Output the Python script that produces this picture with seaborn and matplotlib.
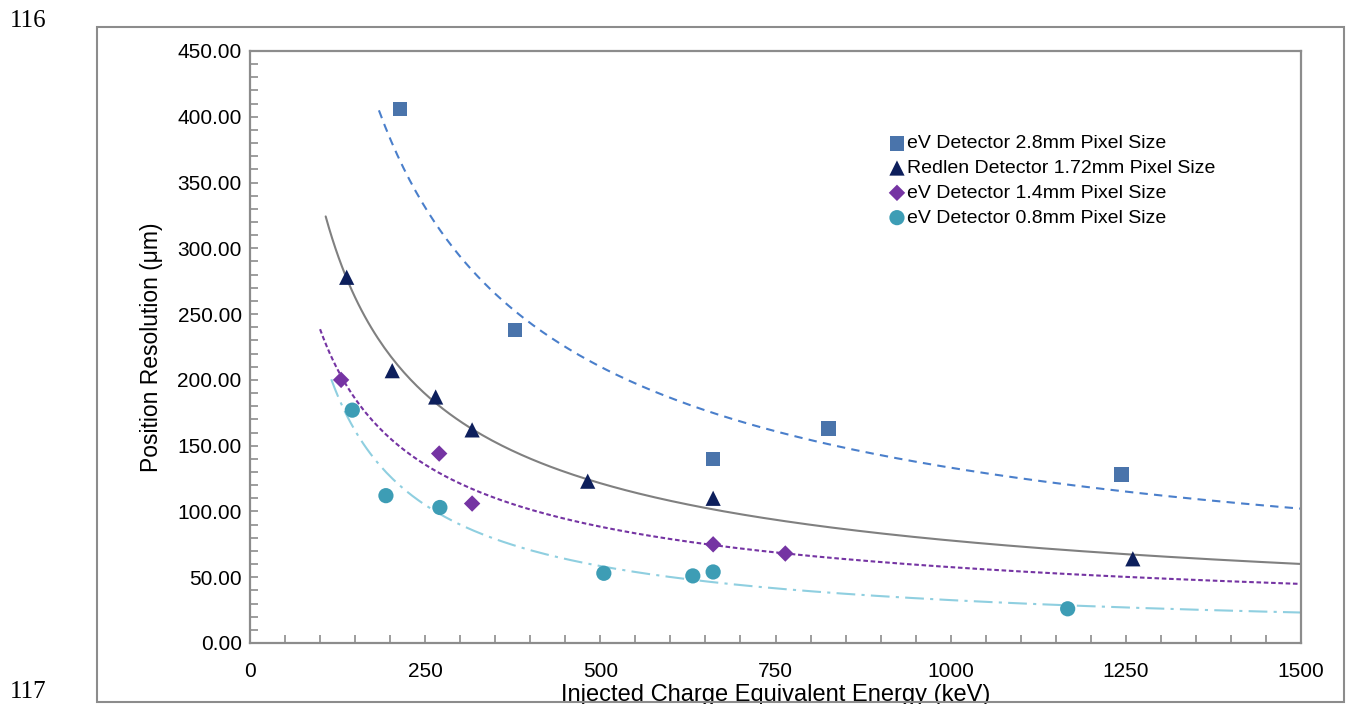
import numpy as np
import pandas as pd
import seaborn as sns
import matplotlib.pyplot as plt
from matplotlib.patches import Rectangle

# values
sq_x = [214, 378, 661, 826, 1244]
sq_y = [406, 238, 140, 163, 128]
tri_x = [138, 203, 265, 317, 482, 661, 1260]
tri_y = [278, 207, 187, 162, 123, 110, 64]
dia_x = [130, 270, 317, 661, 764]
dia_y = [200, 144, 106, 75, 68]
cir_x = [146, 194, 271, 505, 632, 661, 1167]
cir_y = [177, 112, 103, 53, 51, 54, 26]

labels = ["eV Detector 2.8mm Pixel Size", "Redlen Detector 1.72mm Pixel Size",
          "eV Detector 1.4mm Pixel Size", "eV Detector 0.8mm Pixel Size"]
marker_colors = ["#4a74ab", "#0d1f5c", "#7534a3", "#3d9db5"]
markers = ["s", "^", "D", "o"]
marker_sizes = [110, 120, 70, 120]
line_colors = ["#4a7fcb", "#808080", "#7534a3", "#8fcfe0"]
line_styles = [(0, (4, 3)), "-", (0, (2.2, 1.3)), (0, (9, 3, 1.5, 3))]

sns.set_style("white")
plt.rcParams['font.family'] = ['Liberation Sans', 'DejaVu Sans']
plt.rcParams['text.color'] = 'black'
plt.rcParams['axes.labelcolor'] = 'black'

fig = plt.figure(figsize=(13.63, 7.04), dpi=100)
# outer chart frame
fig.patches.append(Rectangle((97 / 1363, 2 / 704), (1344 - 97) / 1363, 675 / 704,
                             transform=fig.transFigure, fill=False,
                             edgecolor="#8c8c8c", linewidth=1.5))
fig.text(10 / 1363, 1 - 21 / 704, "116", family="Liberation Serif", fontsize=18,
         va="center", ha="left")
fig.text(10 / 1363, 0.5 / 704, "117", family="Liberation Serif", fontsize=18,
         va="bottom", ha="left")

ax = fig.add_axes([250 / 1363, 61 / 704, 1051 / 1363, 592 / 704])

series = [(sq_x, sq_y), (tri_x, tri_y), (dia_x, dia_y), (cir_x, cir_y)]
for i, (xs, ys) in enumerate(series):
    xs = np.array(xs, float)
    ys = np.array(ys, float)
    # power trendline (log-log least squares, like a spreadsheet trendline)
    b, loga = np.polyfit(np.log(xs), np.log(ys), 1)
    xf = np.linspace(xs.min() - 30, 1500, 300)
    yf = np.exp(loga) * xf ** b
    ax.plot(xf, yf, color=line_colors[i], linestyle=line_styles[i], linewidth=1.5, zorder=2)

for i, (xs, ys) in enumerate(series):
    df = pd.DataFrame({"x": xs, "y": ys})
    sns.scatterplot(data=df, x="x", y="y", ax=ax, marker=markers[i], s=marker_sizes[i],
                    color=marker_colors[i], edgecolor="none", label=labels[i], zorder=3)

ax.set_xlim(0, 1500)
ax.set_ylim(0, 450)
ax.set_xticks(np.arange(0, 1501, 250))
ax.set_xticks(np.arange(0, 1501, 50), minor=True)
ax.set_yticks(np.arange(0, 451, 50))
ax.set_yticks(np.arange(0, 451, 10), minor=True)
ax.set_yticklabels([f"{v:.2f}" for v in np.arange(0, 451, 50)])
ax.tick_params(axis="both", which="both", direction="in", length=6, width=1.2,
               color="#8c8c8c", labelcolor="black", labelsize=15)
ax.tick_params(axis="x", which="both", top=False, bottom=True, pad=14)
ax.tick_params(axis="y", which="both", left=True, right=False, pad=6)
for sp in ax.spines.values():
    sp.set_color("#8c8c8c")
    sp.set_linewidth(1.6)

ax.set_xlabel("Injected Charge Equivalent Energy (keV)", fontsize=17, labelpad=2)
ax.set_ylabel("Position Resolution (μm)", fontsize=16.5, labelpad=10)

leg = ax.legend(loc="upper left", bbox_to_anchor=(0.598, 0.875), frameon=False,
                fontsize=14, handletextpad=0.05, handlelength=0.9, labelspacing=0.37,
                borderpad=0)
for t in leg.get_texts():
    t.set_color("black")

fig.savefig("out.png", dpi=100)
